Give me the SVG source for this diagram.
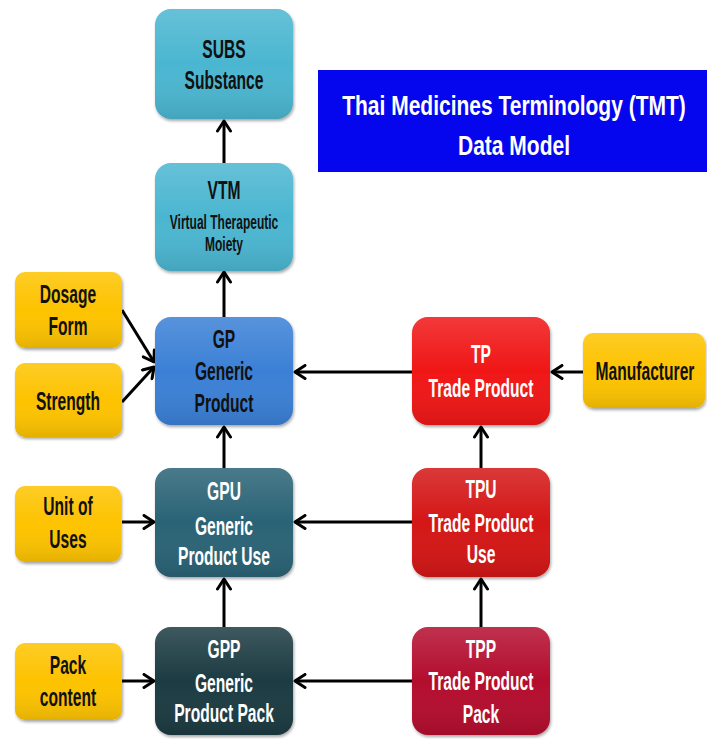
<svg xmlns="http://www.w3.org/2000/svg" width="707" height="739" viewBox="0 0 707 739">
<style>
.t{font-family:"Liberation Sans",Arial,sans-serif;font-weight:bold;font-size:26px;text-anchor:middle}
.s{font-size:20px}
.ti{font-size:28px}
.dk{fill:#111}
.wh{fill:#fff}
.c{stroke:#000;stroke-width:3;fill:none;marker-end:url(#ah)}
.box{filter:url(#sh)}
</style>
<defs>
<marker id="ah" markerUnits="userSpaceOnUse" markerWidth="14" markerHeight="16" viewBox="0 0 14 16" refX="12" refY="8" orient="auto">
<path d="M2,1.5 L12,8 L2,14.5" fill="none" stroke="#000" stroke-width="3" stroke-linecap="round" stroke-linejoin="round"/>
</marker>
<filter id="sh" x="-10%" y="-10%" width="125%" height="130%">
<feDropShadow dx="1" dy="2" stdDeviation="1.5" flood-color="#000" flood-opacity="0.35"/>
</filter>
<linearGradient id="gl" x1="0" y1="0" x2="0" y2="1">
<stop offset="0" stop-color="#fff" stop-opacity="0.15"/>
<stop offset="0.5" stop-color="#fff" stop-opacity="0"/>
<stop offset="1" stop-color="#000" stop-opacity="0.1"/>
</linearGradient>
</defs>

<g id="title">
<rect x="318" y="70" width="389" height="102" fill="#0505ee"/>
<g transform="translate(514 0) scale(0.75 1)">
<text class="t ti wh" x="0" y="115">Thai Medicines Terminology (TMT)</text>
<text class="t ti wh" x="0" y="155">Data Model</text>
</g>
</g>

<g id="connectors">
<line class="c" x1="224" y1="163" x2="224" y2="121"/>
<line class="c" x1="224" y1="317" x2="224" y2="272"/>
<line class="c" x1="224" y1="468" x2="224" y2="427"/>
<line class="c" x1="224" y1="627" x2="224" y2="579"/>
<line class="c" x1="412" y1="372" x2="295" y2="372"/>
<line class="c" x1="583" y1="372" x2="552" y2="372"/>
<line class="c" x1="481" y1="468" x2="481" y2="427"/>
<line class="c" x1="412" y1="522" x2="295" y2="522"/>
<line class="c" x1="481" y1="627" x2="481" y2="579"/>
<line class="c" x1="412" y1="681" x2="295" y2="681"/>
<line class="c" x1="122" y1="310" x2="154" y2="362"/>
<line class="c" x1="122" y1="402" x2="154" y2="367"/>
<line class="c" x1="122" y1="522" x2="154" y2="522"/>
<line class="c" x1="122" y1="681" x2="154" y2="681"/>
</g>

<g id="subs">
<rect class="box" x="155" y="9" width="138" height="110" rx="16" fill="#4cb6d1"/>
<rect x="155" y="9" width="138" height="110" rx="16" fill="url(#gl)"/>
<g transform="translate(224 0) scale(0.6 1)">
<text class="t dk" x="0" y="58">SUBS</text>
<text class="t dk" x="0" y="89">Substance</text>
</g>
</g>

<g id="vtm">
<rect class="box" x="155" y="163" width="138" height="108" rx="16" fill="#4cb6d1"/>
<rect x="155" y="163" width="138" height="108" rx="16" fill="url(#gl)"/>
<g transform="translate(224 0) scale(0.6 1)">
<text class="t dk" x="0" y="199">VTM</text>
<text class="t s dk" x="0" y="229">Virtual Therapeutic</text>
<text class="t s dk" x="0" y="251">Moiety</text>
</g>
</g>

<g id="dosage">
<rect class="box" x="15" y="272" width="107" height="76" rx="10" fill="#fdc300"/>
<rect x="15" y="272" width="107" height="76" rx="10" fill="url(#gl)"/>
<g transform="translate(68 0) scale(0.6 1)">
<text class="t dk" x="0" y="303">Dosage</text>
<text class="t dk" x="0" y="335">Form</text>
</g>
</g>

<g id="strength">
<rect class="box" x="15" y="363" width="107" height="74" rx="10" fill="#fdc300"/>
<rect x="15" y="363" width="107" height="74" rx="10" fill="url(#gl)"/>
<g transform="translate(68 0) scale(0.6 1)">
<text class="t dk" x="0" y="410">Strength</text>
</g>
</g>

<g id="gp">
<rect class="box" x="155" y="317" width="138" height="108" rx="16" fill="#3b80d6"/>
<rect x="155" y="317" width="138" height="108" rx="16" fill="url(#gl)"/>
<g transform="translate(224 0) scale(0.6 1)">
<text class="t dk" x="0" y="348">GP</text>
<text class="t dk" x="0" y="380">Generic</text>
<text class="t dk" x="0" y="412">Product</text>
</g>
</g>

<g id="tp">
<rect class="box" x="412" y="317" width="138" height="108" rx="16" fill="#f01414"/>
<rect x="412" y="317" width="138" height="108" rx="16" fill="url(#gl)"/>
<g transform="translate(481 0) scale(0.6 1)">
<text class="t wh" x="0" y="363">TP</text>
<text class="t wh" x="0" y="397">Trade Product</text>
</g>
</g>

<g id="manufacturer">
<rect class="box" x="583" y="333" width="122" height="75" rx="10" fill="#fdc300"/>
<rect x="583" y="333" width="122" height="75" rx="10" fill="url(#gl)"/>
<g transform="translate(645 0) scale(0.6 1)">
<text class="t dk" x="0" y="380">Manufacturer</text>
</g>
</g>

<g id="unit">
<rect class="box" x="15" y="486" width="106" height="76" rx="10" fill="#fdc300"/>
<rect x="15" y="486" width="106" height="76" rx="10" fill="url(#gl)"/>
<g transform="translate(68 0) scale(0.6 1)">
<text class="t dk" x="0" y="515">Unit of</text>
<text class="t dk" x="0" y="548">Uses</text>
</g>
</g>

<g id="gpu">
<rect class="box" x="155" y="468" width="138" height="109" rx="16" fill="#2a6376"/>
<rect x="155" y="468" width="138" height="109" rx="16" fill="url(#gl)"/>
<g transform="translate(224 0) scale(0.6 1)">
<text class="t wh" x="0" y="500">GPU</text>
<text class="t wh" x="0" y="535">Generic</text>
<text class="t wh" x="0" y="565">Product Use</text>
</g>
</g>

<g id="tpu">
<rect class="box" x="412" y="468" width="138" height="109" rx="16" fill="#d41212"/>
<rect x="412" y="468" width="138" height="109" rx="16" fill="url(#gl)"/>
<g transform="translate(481 0) scale(0.6 1)">
<text class="t wh" x="0" y="498">TPU</text>
<text class="t wh" x="0" y="532">Trade Product</text>
<text class="t wh" x="0" y="563">Use</text>
</g>
</g>

<g id="pack">
<rect class="box" x="15" y="643" width="107" height="77" rx="10" fill="#fdc300"/>
<rect x="15" y="643" width="107" height="77" rx="10" fill="url(#gl)"/>
<g transform="translate(68 0) scale(0.6 1)">
<text class="t dk" x="0" y="674">Pack</text>
<text class="t dk" x="0" y="706">content</text>
</g>
</g>

<g id="gpp">
<rect class="box" x="155" y="627" width="138" height="108" rx="16" fill="#1c3a42"/>
<rect x="155" y="627" width="138" height="108" rx="16" fill="url(#gl)"/>
<g transform="translate(224 0) scale(0.6 1)">
<text class="t wh" x="0" y="658">GPP</text>
<text class="t wh" x="0" y="692">Generic</text>
<text class="t wh" x="0" y="722">Product Pack</text>
</g>
</g>

<g id="tpp">
<rect class="box" x="412" y="627" width="138" height="108" rx="16" fill="#b4102e"/>
<rect x="412" y="627" width="138" height="108" rx="16" fill="url(#gl)"/>
<g transform="translate(481 0) scale(0.6 1)">
<text class="t wh" x="0" y="658">TPP</text>
<text class="t wh" x="0" y="690">Trade Product</text>
<text class="t wh" x="0" y="723">Pack</text>
</g>
</g>
</svg>
